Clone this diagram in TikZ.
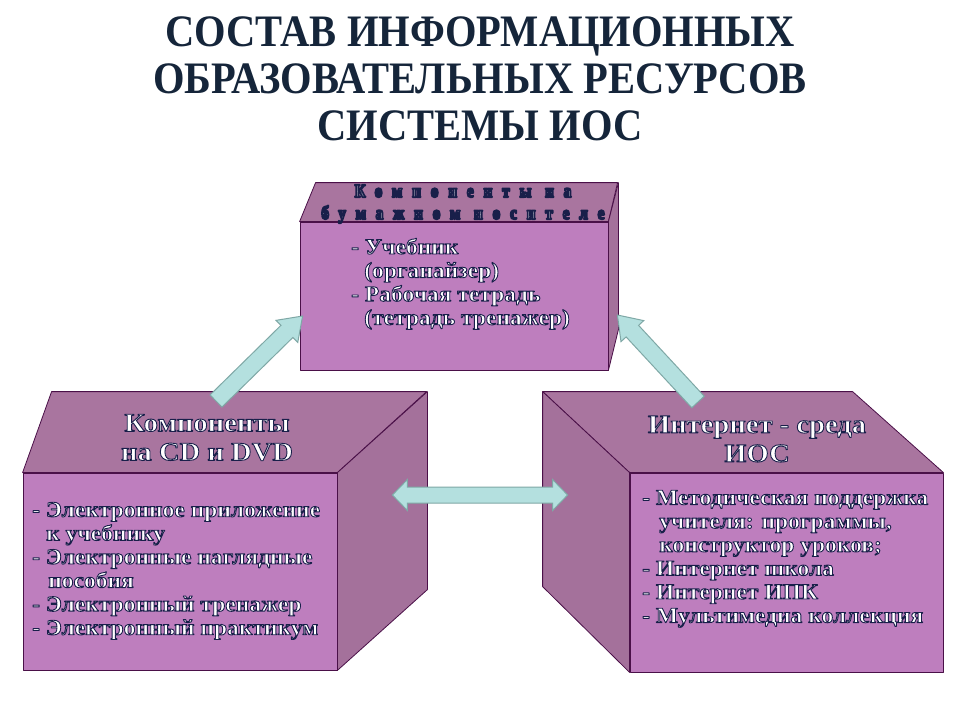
\documentclass[tikz,border=0pt]{standalone}
\usepackage{fontspec}
\setmainfont{Liberation Serif}
\usetikzlibrary{calc}
\definecolor{front}{HTML}{BE7EBE}
\definecolor{topc}{HTML}{A9759F}
\definecolor{sidec}{HTML}{A4719B}
\definecolor{edge}{HTML}{4A1048}
\definecolor{titlec}{HTML}{15253A}
\definecolor{arrfill}{HTML}{B4E0DF}
\definecolor{arredge}{HTML}{7FA8A6}
% white text with a dark navy outline (text render mode 2: fill + stroke)
\newcommand\sh[1]{{\color{white}\special{pdf:literal direct 2 Tr 0.9 w 1 j 0.10 0.12 0.29 RG}#1\special{pdf:literal direct 0 Tr}}}
\newcommand\shb[1]{{\color{white}\special{pdf:literal direct 2 Tr 1.8 w 1 j 0.10 0.12 0.29 RG}#1\special{pdf:literal direct 0 Tr}}}
\newcommand\fatarrow[3]{%
  \coordinate (#3h) at ($(#2)!22pt!(#1)$);
  \draw[fatarr] ($(#1)!8.5pt!90:(#2)$) -- ($(#3h)!8.5pt!90:(#2)$) -- ($(#3h)!15.5pt!90:(#2)$) -- (#2)
    -- ($(#3h)!15.5pt!-90:(#2)$) -- ($(#3h)!8.5pt!-90:(#2)$) -- ($(#1)!8.5pt!-90:(#2)$) -- cycle;}
\newcommand\dblarrow[3]{%
  \coordinate (#3a) at ($(#1)!15pt!(#2)$);
  \coordinate (#3b) at ($(#2)!15pt!(#1)$);
  \draw[fatarr] (#1) -- ($(#3a)!15.5pt!90:(#2)$) -- ($(#3a)!8pt!90:(#2)$) -- ($(#3b)!8pt!-90:(#1)$)
    -- ($(#3b)!15.5pt!-90:(#1)$) -- (#2) -- ($(#3b)!15.5pt!90:(#1)$) -- ($(#3b)!8pt!90:(#1)$)
    -- ($(#3a)!8pt!-90:(#2)$) -- ($(#3a)!15.5pt!-90:(#2)$) -- cycle;}
\begin{document}
\begin{tikzpicture}[x=1pt,y=-1pt,
  face/.style={draw=edge, line width=0.8pt, line join=round},
  frontface/.style={face, fill=front, inner sep=0pt},
  fatarr/.style={draw=arredge, fill=arrfill, line width=1pt, line join=miter},
  headtxt/.style={font=\fontsize{26}{29}\selectfont\bfseries\addfontfeatures{FakeStretch=1.1}, align=center, inner sep=0pt},
  bodytxt/.style={font=\fontsize{22}{23.6}\selectfont\bfseries\addfontfeatures{FakeStretch=1.07}, align=left, anchor=north west, inner sep=0pt}]
\useasboundingbox[fill=white] (0,0) rectangle (960,720);

% title
\node[font=\fontsize{45}{47}\selectfont\bfseries\addfontfeatures{FakeStretch=0.9}, text=titlec, align=center, inner sep=0pt] (title) at (480,79)
  {СОСТАВ ИНФОРМАЦИОННЫХ\\ОБРАЗОВАТЕЛЬНЫХ РЕСУРСОВ\\СИСТЕМЫ ИОС};

% top box
\node[frontface, minimum width=308pt, minimum height=148pt] (topf) at (454,296) {};
\draw[face, fill=topc] (topf.north west) -- ++(16,-39) -- ++(302,0) -- (topf.north east) -- cycle;
\draw[face, fill=sidec] (topf.north east) -- ++(10,-39) -- ++(0,147) -- (topf.south east) -- cycle;

% left box
\node[frontface, minimum width=314pt, minimum height=197pt] (cdf) at (180,571.5) {};
\draw[face, fill=topc] (cdf.north west) -- ++(29,-81) -- ++(375,0) -- (cdf.north east) -- cycle;
\draw[face, fill=sidec] (cdf.north east) -- ++(90,-81) -- ++(0,198) -- (cdf.south east) -- cycle;

% right box
\node[frontface, minimum width=313pt, minimum height=199pt] (netf) at (786.5,572.5) {};
\draw[face, fill=topc] (netf.north west) -- ++(-87,-81) -- ++(310,0) -- (netf.north east) -- cycle;
\draw[face, fill=sidec] (netf.north west) -- ++(-87,-81) -- ++(0,195) -- (netf.south west) -- cycle;

% texts
\node[inner sep=0pt, align=center, font=\fontsize{19}{22}\selectfont\bfseries\addfontfeatures{FakeStretch=0.8,LetterSpace=52}] (tophead) at (463,204)
  {\shb{Компоненты на}\\\shb{бумажном носителе}};
\node[bodytxt] (topbody) at (351,238)
  {\sh{- Учебник}\\\hspace*{13pt}\sh{(органайзер)}\\\sh{- Рабочая тетрадь}\\\hspace*{13pt}\sh{(тетрадь тренажер)}};

\node[headtxt] (cdhead) at (207,437.5) {\sh{Компоненты}\\\sh{на CD и DVD}};
\node[bodytxt] (cdbody) at (32,502)
  {\sh{- Электронное приложение}\\\hspace*{14pt}\sh{к учебнику}\\\sh{- Электронные наглядные}\\\hspace*{16pt}\sh{пособия}\\\sh{- Электронный тренажер}\\\sh{- Электронный практикум}};

\node[headtxt] (nethead) at (757,439) {\sh{Интернет - среда}\\\sh{ИОС}};
\node[bodytxt] (netbody) at (642,490)
  {\sh{- Методическая поддержка}\\\hspace*{17pt}\sh{учителя: программы,}\\\hspace*{17pt}\sh{конструктор уроков;}\\\sh{- Интернет школа}\\\sh{- Интернет ИПК}\\\sh{- Мультимедиа коллекция}};

% arrows
\coordinate (a1s) at (216,401);
\coordinate (a1e) at ($(topf.west)+(3,20)$);
\coordinate (a2s) at (698,402);
\coordinate (a2e) at ($(topf.east)+(9,19)$);
\coordinate (a3s) at ($(cdf.east)+(55,-76.5)$);
\coordinate (a3e) at ($(netf.west)+(-62,-77.5)$);
\fatarrow{a1s}{a1e}{ar1}
\fatarrow{a2s}{a2e}{ar2}
\dblarrow{a3s}{a3e}{ar3}
\end{tikzpicture}
\end{document}
